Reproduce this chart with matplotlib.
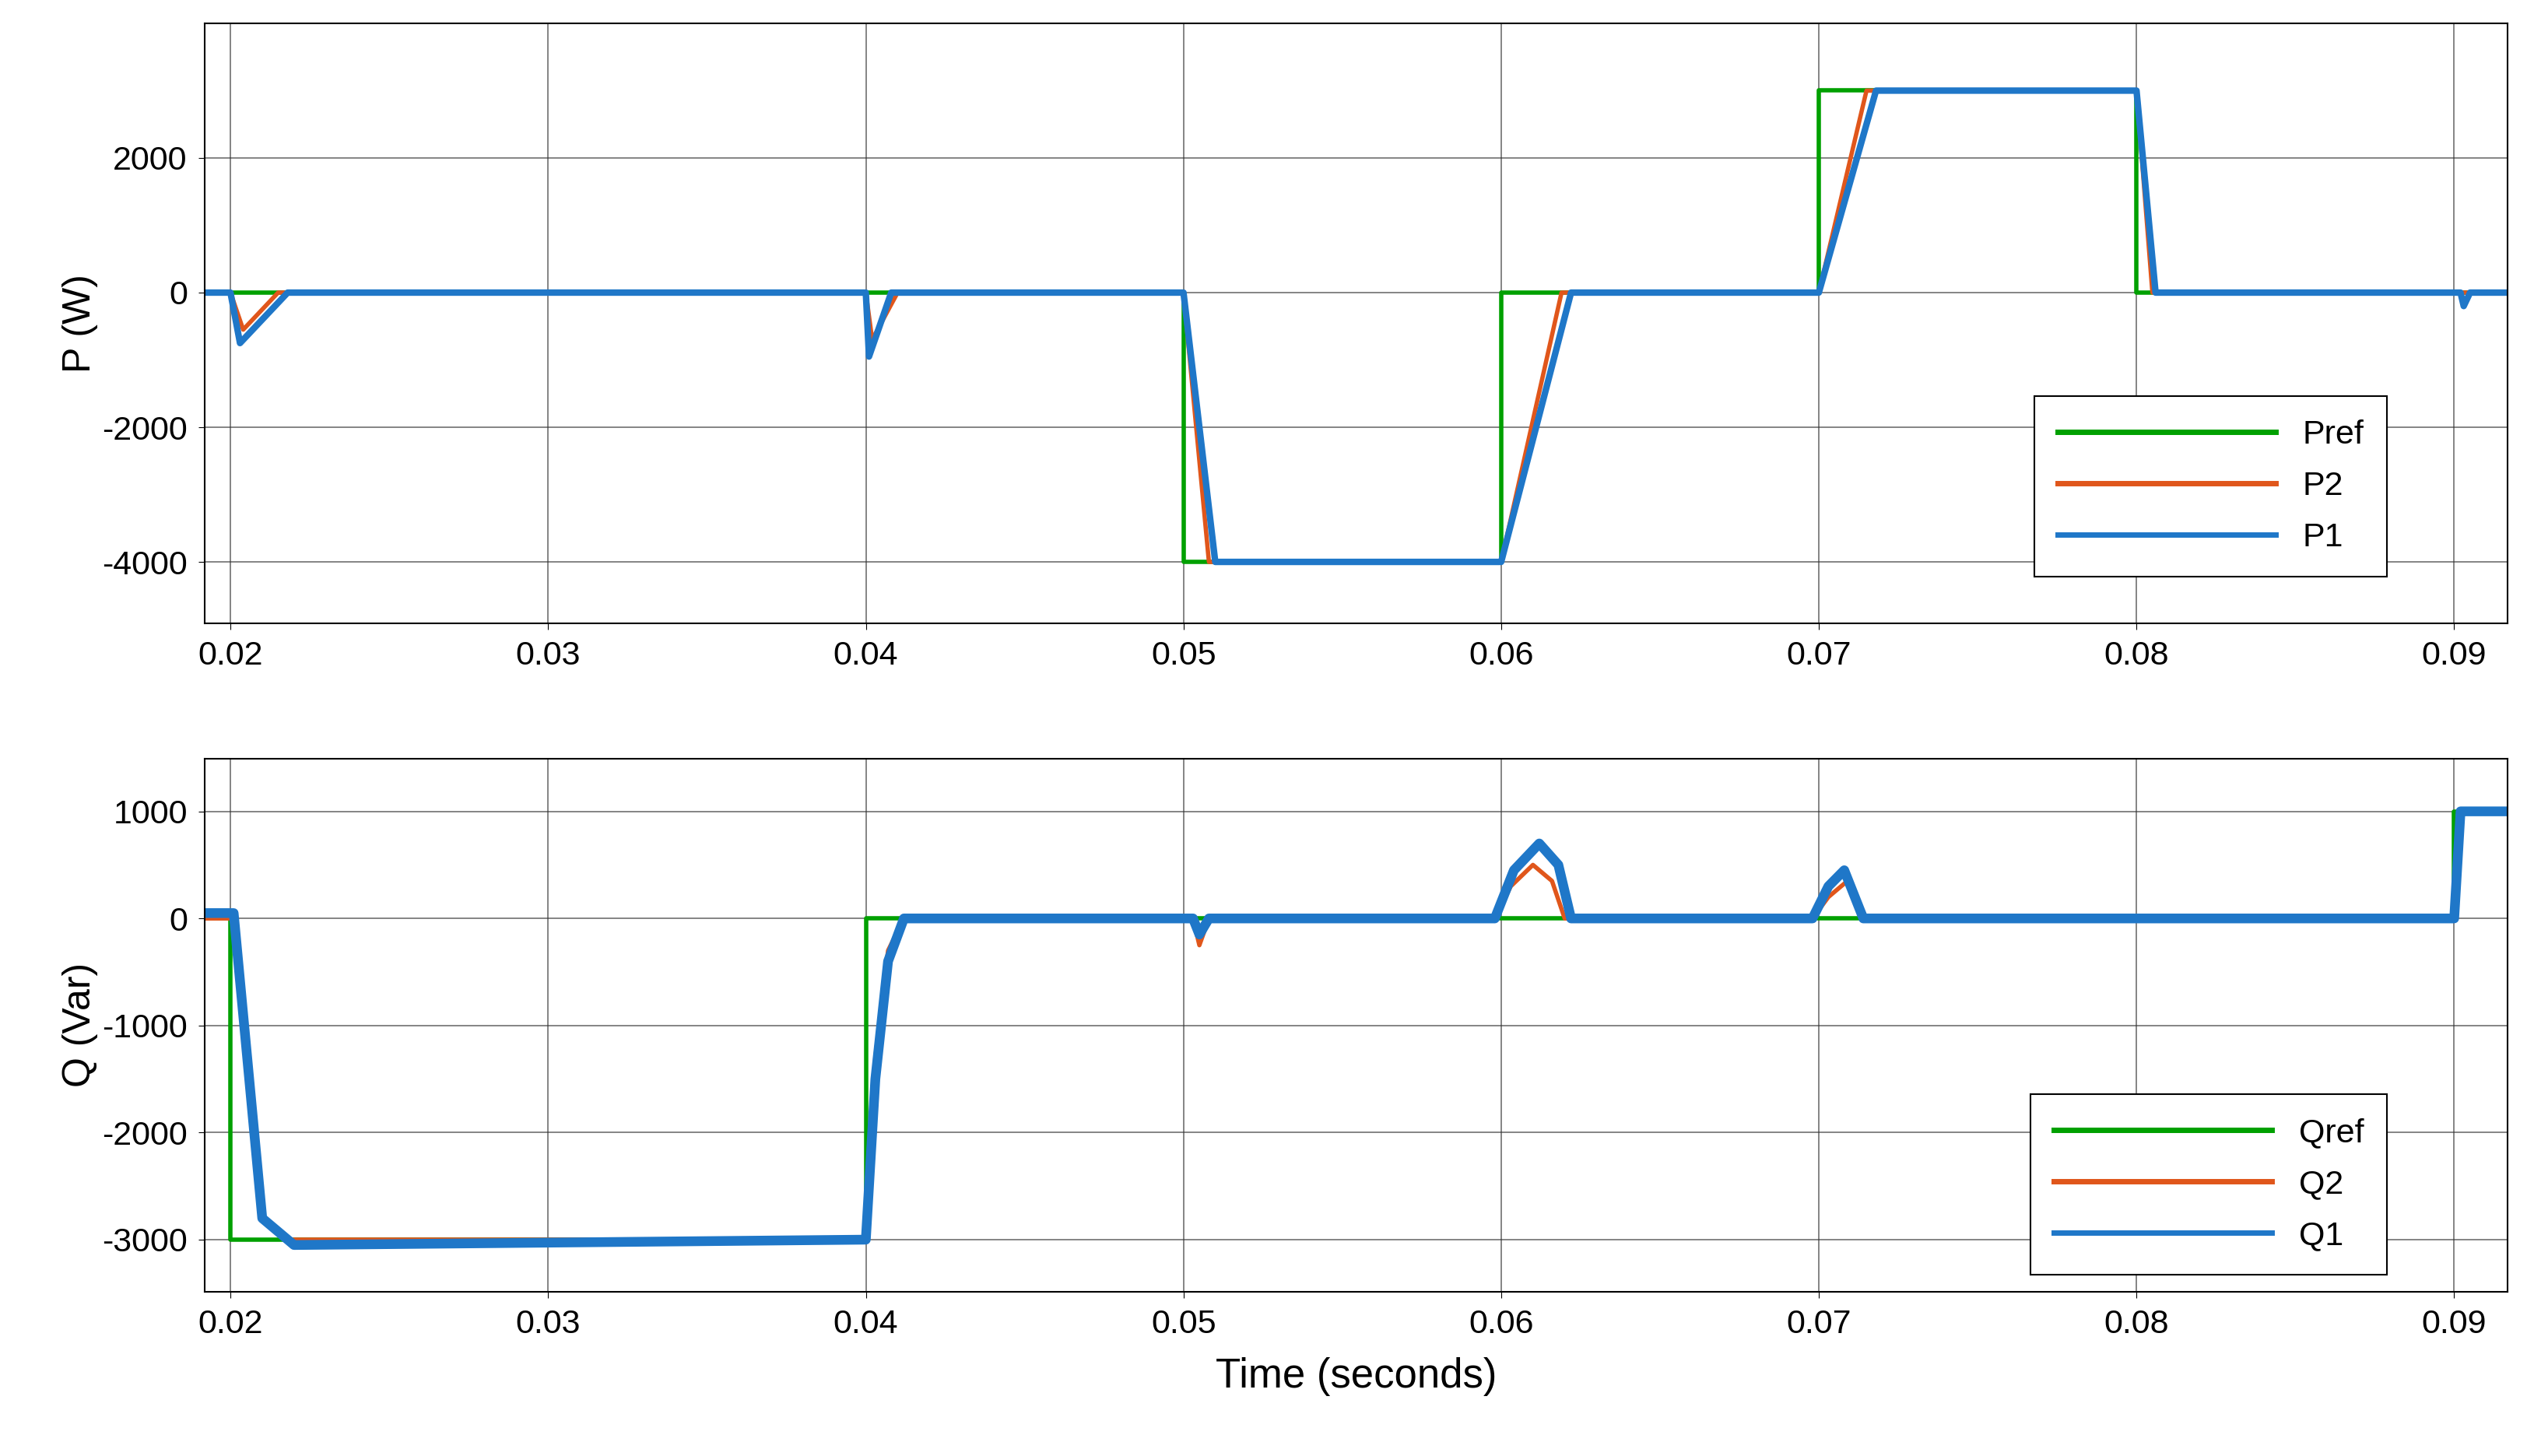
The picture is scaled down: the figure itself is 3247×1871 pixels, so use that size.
import matplotlib
matplotlib.use("Agg")
import matplotlib.pyplot as plt

plt.rcParams['axes.unicode_minus'] = False
plt.rcParams['font.family'] = ['Liberation Sans', 'DejaVu Sans']

# ---- data (waypoints) ----
pref_t = [0.0192, 0.05, 0.05, 0.06, 0.06, 0.07, 0.07, 0.08, 0.08, 0.0917]
pref_v = [0, 0, -4000, -4000, 0, 0, 3000, 3000, 0, 0]

p2_t = [0.0192, 0.0200, 0.0204, 0.0215, 0.0400, 0.0402, 0.0410, 0.0500, 0.0508, 0.0600, 0.0619, 0.0700, 0.0715, 0.0800, 0.0805, 0.0917]
p2_v = [0, 0, -550, 0, 0, -700, 0, 0, -4000, -4000, 0, 0, 3000, 3000, 0, 0]

p1_t = [0.0192, 0.0200, 0.0203, 0.0218, 0.0400, 0.0401, 0.0408, 0.0500, 0.0510, 0.0600, 0.0622, 0.0700, 0.0718, 0.0800, 0.0806, 0.0902, 0.0903, 0.0905, 0.0917]
p1_v = [0, 0, -750, 0, 0, -950, 0, 0, -4000, -4000, 0, 0, 3000, 3000, 0, 0, -200, 0, 0]

qref_t = [0.0192, 0.02, 0.02, 0.04, 0.04, 0.09, 0.09, 0.0917]
qref_v = [0, 0, -3000, -3000, 0, 0, 1000, 1000]

q2_t = [0.0192, 0.0201, 0.0210, 0.0218, 0.0400, 0.0403, 0.0407, 0.0412, 0.0503, 0.0505, 0.0508, 0.0598, 0.0603, 0.0610, 0.0616, 0.0620, 0.0698, 0.0703, 0.0709, 0.0715, 0.0900, 0.0902, 0.0917]
q2_v = [0, 0, -2800, -3000, -3000, -1300, -300, 0, 0, -250, 0, 0, 300, 500, 350, 0, 0, 200, 350, 0, 0, 1000, 1000]

q1_t = [0.0192, 0.0201, 0.0210, 0.0220, 0.0400, 0.0403, 0.0407, 0.0412, 0.0503, 0.0505, 0.0508, 0.0598, 0.0604, 0.0612, 0.0618, 0.0622, 0.0698, 0.0703, 0.0708, 0.0714, 0.0900, 0.0902, 0.0917]
q1_v = [50, 50, -2800, -3050, -3000, -1500, -400, 0, 0, -150, 0, 0, 450, 700, 500, 0, 0, 300, 450, 0, 0, 1000, 1000]

xticks = [0.02, 0.03, 0.04, 0.05, 0.06, 0.07, 0.08, 0.09]
xticklabels = ["0.02", "0.03", "0.04", "0.05", "0.06", "0.07", "0.08", "0.09"]

GREEN, ORANGE, BLUE = "#00a000", "#e0561b", "#1f77c8"

fig = plt.figure(figsize=(32.48, 18.71), dpi=100)
ax1 = fig.add_axes([0.081, 0.572, 0.911, 0.412])
ax2 = fig.add_axes([0.081, 0.113, 0.911, 0.366])

for ax in (ax1, ax2):
    ax.set_xlim(0.01919, 0.09168)
    ax.set_xticks(xticks)
    ax.set_xticklabels(xticklabels)
    ax.grid(True, color="#333333", linewidth=1.2, alpha=0.7)
    ax.tick_params(labelsize=31, length=6, pad=10)
    for s in ax.spines.values():
        s.set_linewidth(1.5)

ax1.plot(pref_t, pref_v, color=GREEN, lw=4, label="Pref")
ax1.plot(p2_t, p2_v, color=ORANGE, lw=4, label="P2")
ax1.plot(p1_t, p1_v, color=BLUE, lw=6, label="P1")
ax1.set_ylim(-4910, 4000)
ax1.set_yticks([-4000, -2000, 0, 2000])
ax1.set_ylabel("P (W)", fontsize=36)

ax2.plot(qref_t, qref_v, color=GREEN, lw=4, label="Qref")
ax2.plot(q2_t, q2_v, color=ORANGE, lw=4, label="Q2")
ax2.plot(q1_t, q1_v, color=BLUE, lw=9, label="Q1")
ax2.set_ylim(-3484, 1493)
ax2.set_yticks([-3000, -2000, -1000, 0, 1000])
ax2.set_ylabel("Q (Var)", fontsize=36)
ax2.set_xlabel("Time (seconds)", fontsize=38, labelpad=16)

for ax, anchor in ((ax1, (0.955, 0.05)), (ax2, (0.955, 0.0))):
    leg = ax.legend(loc="lower right", bbox_to_anchor=anchor, fontsize=31,
                    handlelength=6.5, fancybox=False, framealpha=1,
                    edgecolor="black", borderpad=0.7, labelspacing=0.6)
    leg.get_frame().set_linewidth(1.5)
    for line in leg.get_lines():
        line.set_linewidth(5)

fig.savefig("out.png", dpi=100)
